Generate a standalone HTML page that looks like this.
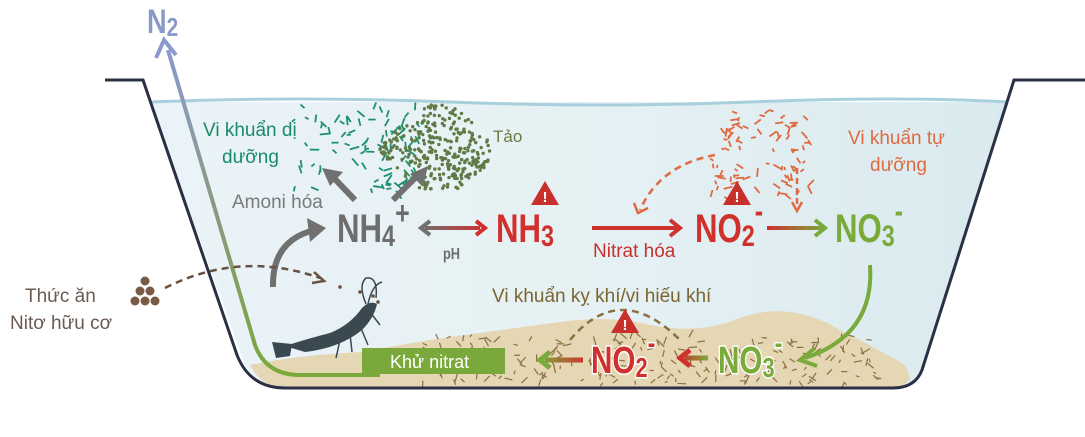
<!DOCTYPE html>
<html><head><meta charset="utf-8"><style>
html,body{margin:0;padding:0;background:#fff;width:1085px;height:437px;overflow:hidden}
svg text{font-family:"Liberation Sans",sans-serif}
.c{font-family:"Liberation Sans",sans-serif;font-weight:bold}
</style></head><body>
<svg id="s" width="1085" height="437" viewBox="0 0 1085 437" xmlns="http://www.w3.org/2000/svg">
<defs>
<linearGradient id="w" x1="0" y1="0" x2="1" y2="0"><stop offset="0" stop-color="#eaf3f7"/><stop offset="0.5" stop-color="#e6f1f4"/><stop offset="1" stop-color="#d9eaee"/></linearGradient>
<linearGradient id="n2" gradientUnits="userSpaceOnUse" x1="0" y1="375" x2="0" y2="45"><stop offset="0" stop-color="#7aa83a"/><stop offset="0.45" stop-color="#8a9a7a"/><stop offset="1" stop-color="#8a9ad0"/></linearGradient>
<linearGradient id="gr" gradientUnits="userSpaceOnUse" x1="422" y1="0" x2="485" y2="0"><stop offset="0" stop-color="#6f6f6f"/><stop offset="1" stop-color="#d0312d"/></linearGradient>
<linearGradient id="rg" gradientUnits="userSpaceOnUse" x1="767" y1="0" x2="825" y2="0"><stop offset="0" stop-color="#d0312d"/><stop offset="1" stop-color="#7aaa3a"/></linearGradient>
<linearGradient id="gr2" gradientUnits="userSpaceOnUse" x1="708" y1="0" x2="680" y2="0"><stop offset="0" stop-color="#7aaa3a"/><stop offset="1" stop-color="#d0312d"/></linearGradient>
<linearGradient id="rg2" gradientUnits="userSpaceOnUse" x1="585" y1="0" x2="540" y2="0"><stop offset="0" stop-color="#d0312d"/><stop offset="1" stop-color="#7aaa3a"/></linearGradient>
</defs>
<!-- water -->
<path d="M150 102 L1007 102 L922 370 Q915 388 893 388 L285 388 Q258 388 245 365 Z" fill="url(#w)"/>
<path d="M150 102 Q300 96 450 102 T750 102 T1007 102" stroke="#a8d0dc" stroke-width="3" fill="none"/>
<!-- sediment -->
<path d="M250 365 Q300 355 360 352 L430 340 Q500 330 560 322 Q610 315 650 325 Q700 335 740 318 Q790 300 840 330 Q880 350 905 365 L910 378 Q905 388 890 388 L285 388 Q262 388 250 365 Z" fill="#e5d6b4"/>
<g id="sed"></g>
<!-- outline -->
<path d="M105 80 L143 80 L237 355 Q250 388 285 388 L893 388 Q915 388 922 370 L1014 80 L1085 80" stroke="#2a3045" stroke-width="3" fill="none"/>
<!-- N2 line -->
<path d="M168 50 L255 345 Q266 375 300 375 L380 375" stroke="url(#n2)" stroke-width="4" fill="none"/>
<path d="M156 58 L164 40 L176 55" stroke="#8a9ad0" stroke-width="4" fill="none"/>
<g transform="translate(147,33) scale(0.8,1)"><text x="0" y="0" font-size="34" fill="#8a9ac8" class="c">N<tspan font-size="26" dy="3">2</tspan></text></g>
<g id="dots"></g>
<!-- labels -->
<text x="203" y="136" font-size="19" fill="#1a8a6a">Vi khuẩn dị</text>
<text x="222" y="163" font-size="19" fill="#1a8a6a">dưỡng</text>
<text x="493" y="142" font-size="17" fill="#6a7a40">Tảo</text>
<text x="232" y="208" font-size="19" fill="#7a7a7a">Amoni hóa</text>
<text x="848" y="144" font-size="19" fill="#e06a40">Vi khuẩn tự</text>
<text x="870" y="171" font-size="19" fill="#e06a40">dưỡng</text>
<text x="25" y="302" font-size="19" fill="#6a5a50">Thức ăn</text>
<text x="10" y="329" font-size="19" fill="#6a5a50">Nitơ hữu cơ</text>
<text x="492" y="302" font-size="19" fill="#7a6530">Vi khuẩn kỵ khí/vi hiếu khí</text>
<!-- gray arrows -->
<path d="M355 200 L333 177" stroke="#707070" stroke-width="6"/><path d="M322 168 L343 172 L330 186 Z" fill="#707070"/>
<path d="M393 200 L418 175" stroke="#707070" stroke-width="6"/><path d="M428 166 L423 187 L410 174 Z" fill="#707070"/>
<path d="M273 287 Q272 240 315 230" stroke="#707070" stroke-width="6" fill="none"/><path d="M326 228 L307 218 L310 242 Z" fill="#707070"/>
<!-- main chemistry -->
<g transform="translate(337,242) scale(0.78,1)"><text font-size="40" fill="#6d6d6d" class="c">NH<tspan font-size="30" dy="4">4</tspan><tspan font-size="32" dy="-22">+</tspan></text></g>
<path d="M425 228 L480 228" stroke="url(#gr)" stroke-width="4"/><path d="M430 221 L421 228 L430 235" stroke="#707070" stroke-width="4" fill="none"/><path d="M476 221 L485 228 L476 235" stroke="#d0312d" stroke-width="4" fill="none"/>
<g transform="translate(443,259) scale(0.8,1)"><text font-size="16" fill="#6d6d6d" class="c">pH</text></g>
<g transform="translate(496,242) scale(0.78,1)"><text font-size="40" fill="#d0312d" class="c">NH<tspan font-size="30" dy="4">3</tspan></text></g>
<path d="M592 228 L678 228" stroke="#d0312d" stroke-width="4"/><path d="M670 220 L680 228 L670 236" stroke="#d0312d" stroke-width="4" fill="none"/>
<text x="593" y="257" font-size="19" fill="#c8302c">Nitrat hóa</text>
<g transform="translate(695,242) scale(0.78,1)"><text font-size="40" fill="#d0312d" class="c">NO<tspan font-size="30" dy="4">2</tspan><tspan font-size="32" dy="-24">-</tspan></text></g>
<path d="M767 228 L822 228" stroke="url(#rg)" stroke-width="4"/><path d="M815 220 L825 228 L815 236" stroke="#7aaa3a" stroke-width="4" fill="none"/>
<g transform="translate(835,242) scale(0.78,1)"><text font-size="40" fill="#7aaa3a" class="c">NO<tspan font-size="30" dy="4">3</tspan><tspan font-size="32" dy="-24">-</tspan></text></g>
<!-- orange dashed -->
<path d="M715 155 Q660 165 640 210" stroke="#e06a40" stroke-width="2.5" stroke-dasharray="7 5" fill="none"/><path d="M634 203 L638 213 L648 208" stroke="#e06a40" stroke-width="2.5" fill="none"/>
<path d="M797 168 L797 205" stroke="#e06a40" stroke-width="2.5" stroke-dasharray="6 4"/><path d="M792 202 L797 211 L802 202" stroke="#e06a40" stroke-width="2.5" fill="none"/>
<!-- feed -->
<g fill="#7a5a45"><circle cx="145" cy="281" r="4.5"/><circle cx="140" cy="291" r="4.5"/><circle cx="150" cy="291" r="4.5"/><circle cx="135" cy="301" r="4.5"/><circle cx="145" cy="301" r="4.5"/><circle cx="155" cy="301" r="4.5"/></g>
<path d="M165 288 Q240 250 320 278" stroke="#6a5040" stroke-width="2.5" stroke-dasharray="7 5" fill="none"/><path d="M314 272 L324 281 L312 283" stroke="#6a5040" stroke-width="2.5" fill="none"/>
<!-- shrimp -->
<g fill="#3a4850"><path d="M285 346 Q310 338 330 333 Q350 325 362 308 Q370 300 377 304 Q374 318 362 330 Q340 348 305 352 Z"/><path d="M272 342 L292 344 L290 356 L276 358 Z"/></g>
<path d="M366 304 Q358 285 366 278 Q378 276 376 298 M368 304 Q372 285 382 282" stroke="#3a4850" stroke-width="1.5" fill="none"/>
<path d="M340 340 L336 358 M350 334 L352 352 M360 326 L368 345 M370 312 L380 325" stroke="#3a4850" stroke-width="1.5"/>
<g fill="#6a5040"><circle cx="340" cy="287" r="1.8"/><circle cx="360" cy="292" r="1.8"/><circle cx="373" cy="296" r="1.8"/><circle cx="378" cy="302" r="1.8"/></g>
<!-- Khu nitrat -->
<rect x="362" y="348" width="143" height="26" fill="#7aa83a"/>
<text x="390" y="368" font-size="18" fill="#fff">Khử nitrat</text>
<!-- green curve -->
<path d="M870 265 Q875 335 805 358" stroke="#7aaa3a" stroke-width="4" fill="none"/><path d="M815 348 L800 360 L817 366" stroke="#7aaa3a" stroke-width="4" fill="none"/>
<!-- bottom chemistry -->
<path d="M708 358 L685 358" stroke="url(#gr2)" stroke-width="5"/><path d="M690 350 L680 358 L690 366" stroke="#d0312d" stroke-width="5" fill="none"/>
<g transform="translate(718,373) scale(0.78,1)"><text font-size="38" fill="#7aaa3a" class="c" stroke="#fff" stroke-width="3" paint-order="stroke">NO<tspan font-size="28" dy="4">3</tspan><tspan font-size="30" dy="-24">-</tspan></text></g>
<g transform="translate(591,373) scale(0.78,1)"><text font-size="38" fill="#d0312d" class="c" stroke="#fff" stroke-width="3" paint-order="stroke">NO<tspan font-size="28" dy="4">2</tspan><tspan font-size="30" dy="-24">-</tspan></text></g>
<path d="M583 360 L545 360" stroke="url(#rg2)" stroke-width="5"/><path d="M550 352 L540 360 L550 368" stroke="#7aaa3a" stroke-width="5" fill="none"/>
<path d="M570 340 Q620 280 680 340" stroke="#8a7040" stroke-width="2.5" stroke-dasharray="7 5" fill="none"/>
<!-- warnings -->
<g id="warn"></g>
</svg>
<script>
var s="http://www.w3.org/2000/svg";
function el(p,t,a){var e=document.createElementNS(s,t);for(var k in a)e.setAttribute(k,a[k]);p.appendChild(e);return e;}
var seed=7;function r(){seed=(seed*16807)%2147483647;return seed/2147483647;}
var d=document.getElementById('dots'),sd=document.getElementById('sed'),w=document.getElementById('warn');
for(var i=0;i<90;i++){var x=295+r()*125,y=108+r()*85,a=r()*6.28,l=4+r()*6;el(d,'line',{x1:x,y1:y,x2:x+Math.cos(a)*l,y2:y+Math.sin(a)*l,stroke:'#1d9070','stroke-width':1.8});}
for(var i=0;i<420;i++){var x=380+r()*110,y=105+r()*85;if(Math.abs(x-440)/60+Math.abs(y-150)/50>1.1)continue;el(d,'circle',{cx:x,cy:y,r:1.7,fill:'#5e7a45'});}
for(var i=0;i<90;i++){var x=710+r()*100,y=110+r()*90,a=r()*6.28,l=3+r()*6;el(d,'line',{x1:x,y1:y,x2:x+Math.cos(a)*l,y2:y+Math.sin(a)*l,stroke:'#e2683e','stroke-width':1.8});}
for(var i=0;i<220;i++){var x=420+r()*460,y=335+r()*50,a=r()*6.28,l=3+r()*6;el(sd,'line',{x1:x,y1:y,x2:x+Math.cos(a)*l,y2:y+Math.sin(a)*l,stroke:'#8a7040','stroke-width':1.2});}
[[545,197],[737,197],[625,325]].forEach(function(p){el(w,'path',{d:'M'+p[0]+' '+(p[1]-16)+' L'+(p[0]+14)+' '+(p[1]+8)+' L'+(p[0]-14)+' '+(p[1]+8)+' Z',fill:'#c8302c'});var t=el(w,'text',{x:p[0],y:p[1]+5,'font-size':15,'font-weight':'bold',fill:'#fff','text-anchor':'middle'});t.textContent='!';});
</script>
</body></html>
